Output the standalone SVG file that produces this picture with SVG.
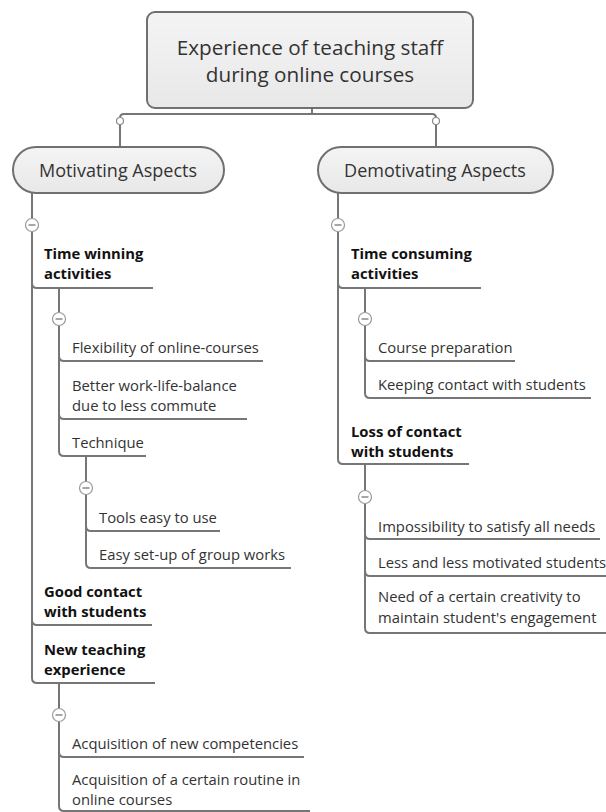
<svg xmlns="http://www.w3.org/2000/svg" width="606" height="812" viewBox="0 0 606 812">
<defs>
<linearGradient id="g" x1="0" y1="0" x2="0" y2="1">
<stop offset="0" stop-color="#f4f4f4"/>
<stop offset="1" stop-color="#e8e8e8"/>
</linearGradient>
</defs>
<style>
.box{fill:url(#g);stroke:#707070;stroke-width:2}
.ln{fill:none;stroke:#767676;stroke-width:2}
.ul{fill:none;stroke:#767676;stroke-width:2}
.tog{fill:#fff;stroke:#9a9a9a;stroke-width:1.2}
.mn{stroke:#777;stroke-width:1.3}
.dot{fill:#fff;stroke:#8a8a8a;stroke-width:1.2}
text{font-family:"Open Sans","Noto Sans","Liberation Sans",sans-serif;fill:#333}
.t0{font-size:20.7px;text-anchor:middle}
.t1{font-size:18px;text-anchor:middle}
.t2{font-size:14.8px;font-weight:bold;fill:#111}
.t3{font-size:14.8px}
</style>
<rect width="606" height="812" fill="#fff"/>
<g id="connectors">
<path class="ln" d="M312 108 V114 M124 114 H432 M120 118 Q120 114 124 114 M436 118 Q436 114 432 114"/>
<path class="ln" d="M120 124 V147 M436 124 V147"/>
<circle class="dot" cx="120" cy="121" r="3.5"/>
<circle class="dot" cx="436" cy="121" r="3.5"/>
<path class="ln" d="M32 193 V678 Q32 683 37 683 M32 283 Q32 288 37 288 M32 620 Q32 625 37 625"/>
<path class="ln" d="M59 288 V451 Q59 456 64 456 M59 356 Q59 361 64 361 M59 414 Q59 419 64 419"/>
<path class="ln" d="M86 456 V563 Q86 568 91 568 M86 526 Q86 531 91 531"/>
<path class="ln" d="M59 683 V806 Q59 811 64 811 M59 752 Q59 757 64 757"/>
<path class="ln" d="M338 193 V459 Q338 464 343 464 M338 283 Q338 288 343 288"/>
<path class="ln" d="M365 288 V393 Q365 398 370 398 M365 356 Q365 361 370 361"/>
<path class="ln" d="M365 464 V628 Q365 633 370 633 M365 534 Q365 539 370 539 M365 571 Q365 576 370 576"/>
<g>
<circle class="tog" cx="32" cy="225" r="6.5"/><line class="mn" x1="28.5" y1="225" x2="35.5" y2="225"/>
<circle class="tog" cx="59" cy="319" r="6.5"/><line class="mn" x1="55.5" y1="319" x2="62.5" y2="319"/>
<circle class="tog" cx="86" cy="488" r="6.5"/><line class="mn" x1="82.5" y1="488" x2="89.5" y2="488"/>
<circle class="tog" cx="59" cy="715" r="6.5"/><line class="mn" x1="55.5" y1="715" x2="62.5" y2="715"/>
<circle class="tog" cx="338" cy="225" r="6.5"/><line class="mn" x1="334.5" y1="225" x2="341.5" y2="225"/>
<circle class="tog" cx="365" cy="319" r="6.5"/><line class="mn" x1="361.5" y1="319" x2="368.5" y2="319"/>
<circle class="tog" cx="365" cy="497" r="6.5"/><line class="mn" x1="361.5" y1="497" x2="368.5" y2="497"/>
</g>
</g>

<g id="root">
<rect class="box" x="147" y="12" width="326" height="96" rx="8"/>
<text class="t0" x="310" y="55">Experience of teaching staff</text>
<text class="t0" x="310" y="82">during online courses</text>
</g>
<g id="motivating">
<rect class="box" x="13" y="147" width="211" height="46" rx="23"/>
<text class="t1" x="118" y="177">Motivating Aspects</text>
</g>
<g id="demotivating">
<rect class="box" x="318" y="147" width="235" height="46" rx="23"/>
<text class="t1" x="435" y="177">Demotivating Aspects</text>
</g>

<g id="time-winning">
<text class="t2" x="44" y="259">Time winning</text>
<text class="t2" x="44" y="279">activities</text>
<line class="ul" x1="37" y1="288" x2="153" y2="288"/>
</g>
<g id="flexibility">
<text class="t3" x="72" y="353">Flexibility of online-courses</text>
<line class="ul" x1="64" y1="361" x2="263" y2="361"/>
</g>
<g id="work-life">
<text class="t3" x="72" y="391">Better work-life-balance</text>
<text class="t3" x="72" y="411">due to less commute</text>
<line class="ul" x1="64" y1="419" x2="247" y2="419"/>
</g>
<g id="technique">
<text class="t3" x="72" y="448">Technique</text>
<line class="ul" x1="64" y1="456" x2="146" y2="456"/>
</g>
<g id="tools">
<text class="t3" x="99" y="523">Tools easy to use</text>
<line class="ul" x1="91" y1="531" x2="220" y2="531"/>
</g>
<g id="setup">
<text class="t3" x="99" y="560">Easy set-up of group works</text>
<line class="ul" x1="91" y1="568" x2="291" y2="568"/>
</g>
<g id="good-contact">
<text class="t2" x="44" y="597">Good contact</text>
<text class="t2" x="44" y="617">with students</text>
<line class="ul" x1="37" y1="625" x2="152" y2="625"/>
</g>
<g id="new-teaching">
<text class="t2" x="44" y="655">New teaching</text>
<text class="t2" x="44" y="675">experience</text>
<line class="ul" x1="37" y1="683" x2="155" y2="683"/>
</g>
<g id="competencies">
<text class="t3" x="72" y="749">Acquisition of new competencies</text>
<line class="ul" x1="64" y1="757" x2="304" y2="757"/>
</g>
<g id="routine">
<text class="t3" x="72" y="785">Acquisition of a certain routine in</text>
<text class="t3" x="72" y="805">online courses</text>
<line class="ul" x1="64" y1="811" x2="310" y2="811"/>
</g>

<g id="time-consuming">
<text class="t2" x="351" y="259">Time consuming</text>
<text class="t2" x="351" y="279">activities</text>
<line class="ul" x1="343" y1="288" x2="481" y2="288"/>
</g>
<g id="course-prep">
<text class="t3" x="378" y="353">Course preparation</text>
<line class="ul" x1="370" y1="361" x2="515" y2="361"/>
</g>
<g id="keeping-contact">
<text class="t3" x="378" y="390">Keeping contact with students</text>
<line class="ul" x1="370" y1="398" x2="591" y2="398"/>
</g>
<g id="loss-contact">
<text class="t2" x="351" y="437">Loss of contact</text>
<text class="t2" x="351" y="457">with students</text>
<line class="ul" x1="343" y1="464" x2="469" y2="464"/>
</g>
<g id="impossibility">
<text class="t3" x="378" y="532">Impossibility to satisfy all needs</text>
<line class="ul" x1="370" y1="539" x2="600" y2="539"/>
</g>
<g id="less-motivated">
<text class="t3" x="378" y="568">Less and less motivated students</text>
<line class="ul" x1="370" y1="576" x2="606" y2="576"/>
</g>
<g id="creativity">
<text class="t3" x="378" y="602">Need of a certain creativity to</text>
<text class="t3" x="378" y="623">maintain student's engagement</text>
<line class="ul" x1="370" y1="633" x2="606" y2="633"/>
</g>
</svg>
